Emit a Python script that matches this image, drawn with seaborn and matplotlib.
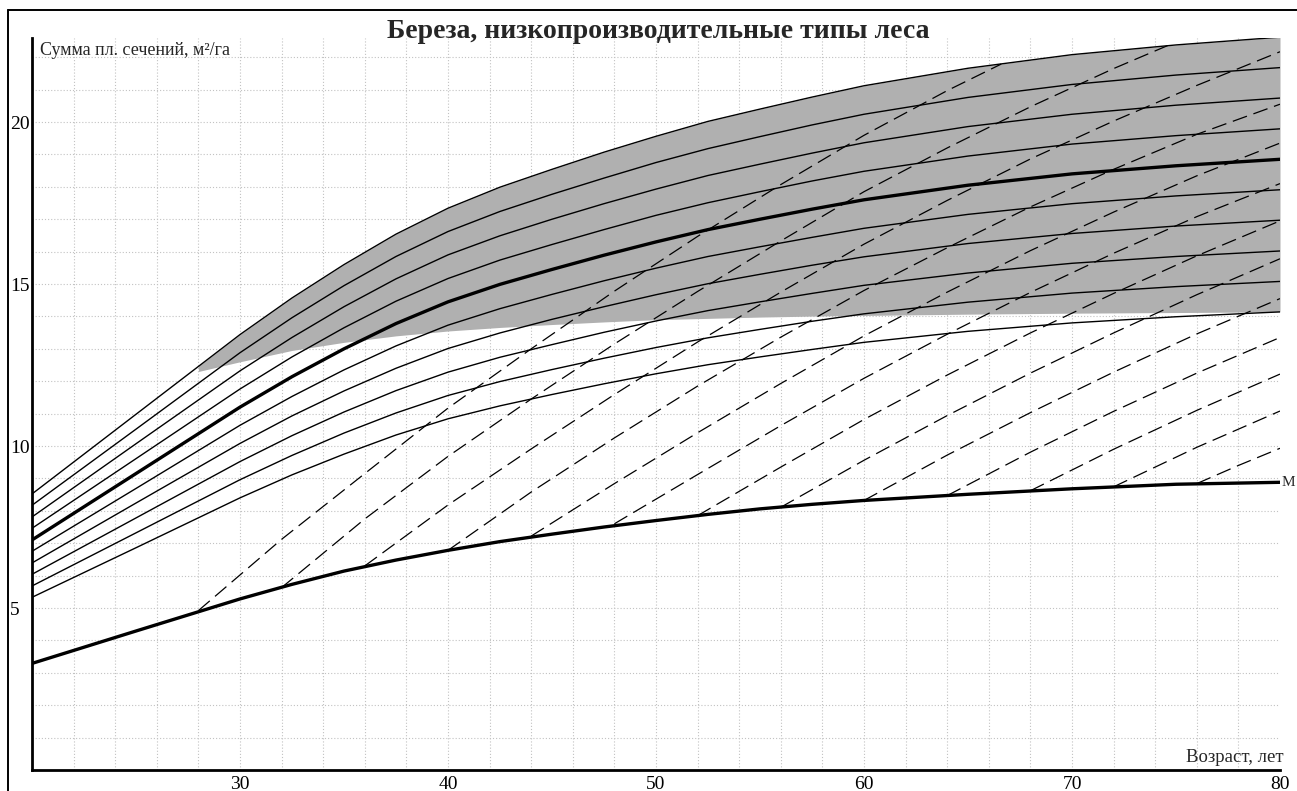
import matplotlib
matplotlib.use("Agg")
import matplotlib.pyplot as plt
import seaborn as sns
from matplotlib.lines import Line2D
from matplotlib.ticker import FixedLocator

# ---------------- data ----------------
ages = [20, 25, 30, 32.5, 35, 37.5, 40, 42.5, 45, 47.5, 50, 52.5, 55, 57.5, 60, 65, 70, 75, 80]

g_120 = [8.52, 10.98, 13.44, 14.57, 15.60, 16.54, 17.34, 17.99, 18.54, 19.07, 19.56, 20.02, 20.40, 20.77, 21.12, 21.66, 22.08, 22.38, 22.62]
g_115 = [8.17, 10.52, 12.88, 13.96, 14.95, 15.85, 16.62, 17.24, 17.77, 18.27, 18.75, 19.18, 19.55, 19.91, 20.24, 20.76, 21.16, 21.45, 21.68]
g_110 = [7.81, 10.07, 12.32, 13.35, 14.30, 15.16, 15.90, 16.49, 17.00, 17.48, 17.93, 18.35, 18.70, 19.04, 19.36, 19.86, 20.24, 20.52, 20.74]
g_105 = [7.46, 9.61, 11.76, 12.75, 13.65, 14.47, 15.17, 15.74, 16.22, 16.68, 17.12, 17.51, 17.85, 18.18, 18.48, 18.95, 19.32, 19.58, 19.79]
g_100 = [7.10, 9.15, 11.20, 12.14, 13.00, 13.78, 14.45, 14.99, 15.45, 15.89, 16.30, 16.68, 17.00, 17.31, 17.60, 18.05, 18.40, 18.65, 18.85]
g_095 = [6.75, 8.69, 10.64, 11.53, 12.35, 13.09, 13.73, 14.24, 14.68, 15.10, 15.49, 15.85, 16.15, 16.44, 16.72, 17.15, 17.48, 17.72, 17.91]
g_090 = [6.39, 8.24, 10.08, 10.93, 11.70, 12.40, 13.01, 13.49, 13.91, 14.30, 14.67, 15.01, 15.30, 15.58, 15.84, 16.25, 16.56, 16.79, 16.97]
g_085 = [6.04, 7.78, 9.52, 10.32, 11.05, 11.71, 12.28, 12.74, 13.13, 13.51, 13.86, 14.18, 14.45, 14.71, 14.96, 15.34, 15.64, 15.85, 16.02]
g_080 = [5.68, 7.32, 8.96, 9.71, 10.40, 11.02, 11.56, 11.99, 12.36, 12.71, 13.04, 13.34, 13.60, 13.85, 14.08, 14.44, 14.72, 14.92, 15.08]
g_075 = [5.33, 6.86, 8.40, 9.11, 9.75, 10.34, 10.84, 11.24, 11.59, 11.92, 12.23, 12.51, 12.75, 12.98, 13.20, 13.54, 13.80, 13.99, 14.14]
g_min = [3.29, 4.29, 5.28, 5.73, 6.14, 6.48, 6.78, 7.05, 7.28, 7.50, 7.70, 7.89, 8.06, 8.20, 8.32, 8.51, 8.68, 8.82, 8.88]

shade_age = [28, 30, 32.5, 35, 37.5, 40, 42.5, 45, 47.5, 50, 52.5, 55, 57.5, 60, 65, 70, 75, 80]
shade_low = [12.30, 12.60, 12.95, 13.20, 13.40, 13.55, 13.66, 13.75, 13.83, 13.90, 13.94, 13.98, 14.01, 14.03, 14.07, 14.10, 14.12, 14.14]
shade_top = [12.46, 13.44, 14.57, 15.60, 16.54, 17.34, 17.99, 18.54, 19.07, 19.56, 20.02, 20.40, 20.77, 21.12, 21.66, 22.08, 22.38, 22.62]

d28_age = [28, 32, 36, 40, 44, 48, 52, 56, 60, 64, 66.6]
d28_g = [4.92, 7.12, 9.15, 11.17, 13.00, 14.78, 16.47, 18.07, 19.59, 20.97, 21.79]
d32_age = [32, 36, 40, 44, 48, 52, 56, 60, 64, 68, 72, 74.6]
d32_g = [5.63, 7.75, 9.68, 11.45, 13.15, 14.77, 16.33, 17.85, 19.20, 20.47, 21.65, 22.36]
d36_age = [36, 40, 44, 48, 52, 56, 60, 64, 68, 72, 76, 80]
d36_g = [6.30, 8.18, 9.91, 11.59, 13.21, 14.75, 16.23, 17.58, 18.86, 20.03, 21.13, 22.17]
d40_age = [40, 44, 48, 52, 56, 60, 64, 68, 72, 76, 80]
d40_g = [6.78, 8.58, 10.25, 11.85, 13.36, 14.80, 16.12, 17.38, 18.54, 19.62, 20.55]
d44_age = [44, 48, 52, 56, 60, 64, 68, 72, 76, 80]
d44_g = [7.22, 8.84, 10.41, 11.93, 13.40, 14.75, 16.03, 17.22, 18.34, 19.35]
d48_age = [48, 52, 56, 60, 64, 68, 72, 76, 80]
d48_g = [7.60, 9.12, 10.63, 12.09, 13.45, 14.74, 15.95, 17.08, 18.10]
d52_age = [52, 56, 60, 64, 68, 72, 76, 80]
d52_g = [7.85, 9.35, 10.82, 12.19, 13.49, 14.71, 15.87, 16.95]
d56_age = [56, 60, 64, 68, 72, 76, 80]
d56_g = [8.11, 9.56, 10.94, 12.25, 13.49, 14.67, 15.78]
d60_age = [60, 64, 68, 72, 76, 80]
d60_g = [8.32, 9.72, 11.03, 12.28, 13.46, 14.55]
d64_age = [64, 68, 72, 76, 80]
d64_g = [8.47, 9.81, 11.07, 12.25, 13.35]
d68_age = [68, 72, 76, 80]
d68_g = [8.62, 9.90, 11.10, 12.22]
d72_age = [72, 76, 80]
d72_g = [8.74, 9.96, 11.08]
d76_age = [76, 78, 80]
d76_g = [8.84, 9.40, 9.93]

x_ticks = [30, 40, 50, 60, 70, 80]
y_ticks = [5, 10, 15, 20]
title = "Береза, низкопроизводительные типы леса"
y_title = "Сумма пл. сечений, м²/га"
x_title = "Возраст, лет"

# ---------------- drawing ----------------
sns.set_style("white")
plt.rcParams["font.family"] = ["Liberation Serif", "DejaVu Serif"]

W, H = 1297, 791
fig = plt.figure(figsize=(W / 100, H / 100), dpi=100)
fig.patch.set_facecolor("white")
ax = fig.add_axes([32 / W, 21 / H, 1248 / W, 732.2 / H])
ax.set_xlim(20, 80)
ax.set_ylim(0, 22.6)

grid_kw = dict(color="#c2c2c2", lw=0.8, ls=(0, (1, 1.8)), zorder=0)
for gy in range(1, 23):
    ax.axhline(gy, **grid_kw)
for gx in range(22, 80, 2):
    ax.axvline(gx, **grid_kw)

ax.fill_between(shade_age, shade_low, shade_top, color="#b0b0b0", lw=0, zorder=1)

dash_style = (0, (12, 5.5))
for dx, dy in [(d28_age, d28_g), (d32_age, d32_g), (d36_age, d36_g), (d40_age, d40_g),
               (d44_age, d44_g), (d48_age, d48_g), (d52_age, d52_g), (d56_age, d56_g),
               (d60_age, d60_g), (d64_age, d64_g), (d68_age, d68_g), (d72_age, d72_g),
               (d76_age, d76_g)]:
    sns.lineplot(x=dx, y=dy, ax=ax, color="black", linewidth=0.9,
                 linestyle=dash_style, zorder=2)

for vals in [g_120, g_115, g_110, g_105, g_095, g_090, g_085, g_080, g_075]:
    sns.lineplot(x=ages, y=vals, ax=ax, color="black", linewidth=1.0, zorder=3)
sns.lineplot(x=ages, y=g_100, ax=ax, color="black", linewidth=2.4, zorder=4)
sns.lineplot(x=ages, y=g_min, ax=ax, color="black", linewidth=2.4, zorder=4)

for s in ["top", "right"]:
    ax.spines[s].set_visible(False)
for s in ["left", "bottom"]:
    ax.spines[s].set_color("black")
    ax.spines[s].set_linewidth(2.0)

ax.xaxis.set_major_locator(FixedLocator(x_ticks))
ax.xaxis.set_minor_locator(FixedLocator([25, 35, 45, 55, 65, 75]))
ax.yaxis.set_major_locator(FixedLocator(y_ticks))
ax.yaxis.set_minor_locator(FixedLocator(list(range(2, 23, 2))))
ax.set_xticklabels([str(v) for v in x_ticks])
ax.set_yticklabels([str(v) for v in y_ticks])
ax.tick_params(axis="both", which="major", direction="inout", length=7, width=1.2,
               labelsize=14, colors="black")
ax.tick_params(axis="both", which="minor", direction="inout", length=5, width=1.0)
ax.tick_params(axis="x", which="major", pad=0.5)
ax.tick_params(axis="y", which="major", pad=12.3)
for lab in ax.get_yticklabels():
    lab.set_horizontalalignment("left")
ax.set_xlabel("")
ax.set_ylabel("")

fig.text(658 / W, 1 - 31 / H, title, ha="center", va="center",
         fontsize=20, fontweight="bold")
fig.text(40 / W, 1 - 55 / H, y_title, ha="left", va="baseline", fontsize=13)
fig.text(1284 / W, 1 - 762 / H, x_title, ha="right", va="baseline", fontsize=13.5)
ax.annotate("М", xy=(80, g_min[-1]), xytext=(0.8, 0), textcoords="offset points",
            ha="left", va="center", fontsize=11, annotation_clip=False)

# outer frame lines (top and left)
fig.add_artist(Line2D([8 / W, 1.0], [1 - 10 / H, 1 - 10 / H], color="black", lw=1.4))
fig.add_artist(Line2D([8 / W, 8 / W], [0.0, 1 - 10 / H], color="black", lw=1.4))

fig.savefig("out.png", dpi=100, facecolor="white")
